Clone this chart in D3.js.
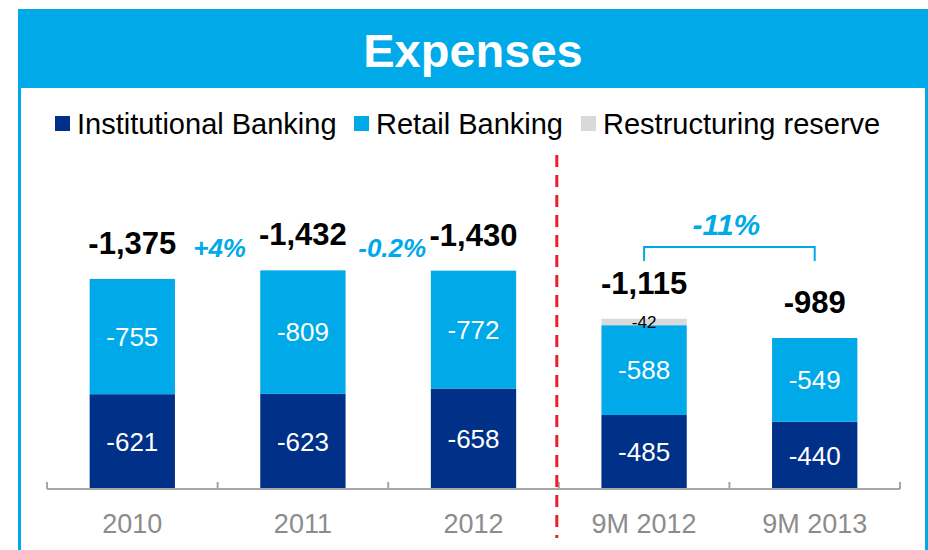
<!DOCTYPE html>
<html>
<head>
<meta charset="utf-8">
<script src="https://cdn.jsdelivr.net/npm/d3@7"></script>
<style>
  body { margin: 0; background: #fff; }
  text { font-family: "Liberation Sans", Arial, sans-serif; }
</style>
</head>
<body>
<div id="chart"></div>
<script>
// data
const categories = ["2010", "2011", "2012", "9M 2012", "9M 2013"];
const institutional = [-621, -623, -658, -485, -440];
const retail = [-755, -809, -772, -588, -549];
const restructuring = [0, 0, 0, -42, 0];
const totals = [-1375, -1432, -1430, -1115, -989];
const growthLabels = ["+4%", "-0.2%"];   // between 2010/2011 and 2011/2012
const periodGrowth = "-11%";             // 9M 2012 -> 9M 2013

const width = 928, height = 550;
const blue = "#00a9e8", navy = "#003087", grey = "#d9d9d9";
// plain hyphen as minus sign, like the slide
const fmt = d3.formatLocale({ decimal: ".", thousands: ",", grouping: [3], currency: ["", ""], minus: "-" }).format(",");

const svg = d3.select("#chart").append("svg")
    .attr("width", width)
    .attr("height", height);

// frame + header
svg.append("rect")
    .attr("x", 19.5).attr("y", 10.5)
    .attr("width", 907).attr("height", 570)
    .attr("fill", "none").attr("stroke", blue).attr("stroke-width", 3);
svg.append("rect")
    .attr("x", 18).attr("y", 9)
    .attr("width", 910).attr("height", 79)
    .attr("fill", blue);
svg.append("text")
    .attr("x", 473).attr("y", 67)
    .attr("text-anchor", "middle")
    .attr("fill", "#fff")
    .style("font-size", "47px").style("font-weight", "bold")
    .text("Expenses");

// legend
const legend = [
    { name: "Institutional Banking", color: navy, x: 55 },
    { name: "Retail Banking", color: blue, x: 354 },
    { name: "Restructuring reserve", color: grey, x: 581 }
];
const lg = svg.append("g").selectAll("g").data(legend).enter().append("g")
    .attr("transform", d => "translate(" + d.x + ",0)");
lg.append("rect").attr("x", 0).attr("y", 116).attr("width", 15).attr("height", 15)
    .attr("fill", d => d.color);
lg.append("text").attr("x", 22).attr("y", 134)
    .style("font-size", "29px").attr("fill", "#000")
    .text(d => d.name);

// scales
const x = d3.scaleBand()
    .domain(categories)
    .range([47, 900])
    .paddingInner(0.5)
    .paddingOuter(0.25);
const y = d3.scaleLinear()
    .domain([0, 1500])
    .range([489, 260]);

const rows = categories.map((c, i) => ({
    cat: c,
    inst: -institutional[i],
    retail: -retail[i],
    restr: -restructuring[i]
}));
const keys = ["inst", "retail", "restr"];
const colors = { inst: navy, retail: blue, restr: grey };
const series = d3.stack().keys(keys)(rows);

// bars
svg.append("g").selectAll("g")
    .data(series)
    .enter().append("g")
    .attr("fill", d => colors[d.key])
    .selectAll("rect")
    .data(d => d)
    .enter().append("rect")
    .attr("x", d => x(d.data.cat))
    .attr("y", d => y(d[1]))
    .attr("width", x.bandwidth())
    .attr("height", d => y(d[0]) - y(d[1]));

// segment labels
series.forEach(s => {
    svg.append("g").selectAll("text")
        .data(s.filter(d => d[1] - d[0] > 0))
        .enter().append("text")
        .attr("x", d => x(d.data.cat) + x.bandwidth() / 2)
        .attr("y", d => (y(d[0]) + y(d[1])) / 2)
        .attr("dy", "0.36em")
        .attr("text-anchor", "middle")
        .attr("fill", s.key === "restr" ? "#000" : "#fff")
        .style("font-size", s.key === "restr" ? "17px" : "26px")
        .text(d => fmt(-(d[1] - d[0])));
});

// totals
svg.append("g").selectAll("text")
    .data(categories)
    .enter().append("text")
    .attr("x", d => x(d) + x.bandwidth() / 2)
    .attr("y", (d, i) => y(-totals[i]) - 25)
    .attr("text-anchor", "middle")
    .style("font-size", "31px").style("font-weight", "bold")
    .attr("fill", "#000")
    .text((d, i) => fmt(totals[i]));

// growth between annual bars
svg.append("g").selectAll("text")
    .data(growthLabels)
    .enter().append("text")
    .attr("x", (d, i) => x.range()[0] + x.step() * (i + 1) + 2 + i * 2)
    .attr("y", 257)
    .attr("text-anchor", "middle")
    .style("font-size", "26px").style("font-weight", "bold").style("font-style", "italic")
    .attr("fill", blue)
    .text(d => d);

// bracket 9M 2012 -> 9M 2013
const bx0 = x("9M 2012") + x.bandwidth() / 2;
const bx1 = x("9M 2013") + x.bandwidth() / 2;
svg.append("path")
    .attr("d", "M" + bx0 + ",261V247H" + bx1 + "V261")
    .attr("fill", "none").attr("stroke", blue).attr("stroke-width", 2);
svg.append("text")
    .attr("x", (bx0 + bx1) / 2 - 3)
    .attr("y", 235)
    .attr("text-anchor", "middle")
    .style("font-size", "30px").style("font-weight", "bold").style("font-style", "italic")
    .attr("fill", blue)
    .text(periodGrowth);

// axis: baseline with ticks on band boundaries
const axis = svg.append("g");
axis.append("line")
    .attr("x1", x.range()[0]).attr("x2", x.range()[1])
    .attr("y1", 489).attr("y2", 489)
    .attr("stroke", "#a6a6a6").attr("stroke-width", 2);
axis.selectAll(".tick")
    .data(d3.range(categories.length + 1))
    .enter().append("line")
    .attr("x1", i => x.range()[0] + i * x.step())
    .attr("x2", i => x.range()[0] + i * x.step())
    .attr("y1", 489).attr("y2", 482)
    .attr("stroke", "#a6a6a6").attr("stroke-width", 2);
axis.selectAll("text")
    .data(categories)
    .enter().append("text")
    .attr("x", d => x(d) + x.bandwidth() / 2)
    .attr("y", 533)
    .attr("text-anchor", "middle")
    .style("font-size", "27px")
    .attr("fill", "#8c8c8c")
    .text(d => d);

// divider between full years and nine-month figures
const divX = x.range()[0] + 3 * x.step() - 2;
svg.append("line")
    .attr("x1", divX).attr("x2", divX)
    .attr("y1", 155).attr("y2", 538)
    .attr("stroke", "#e8202a").attr("stroke-width", 3)
    .attr("stroke-dasharray", "12,8");
</script>
</body>
</html>
